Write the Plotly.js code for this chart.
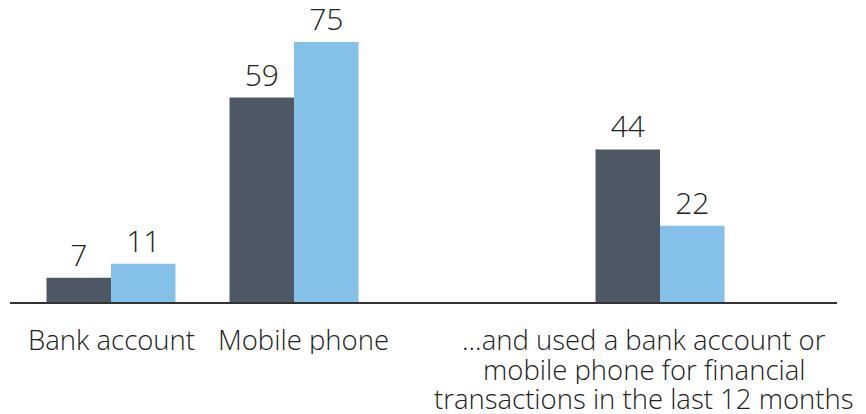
<!DOCTYPE html>
<html><head><meta charset="utf-8">
<script src="https://cdn.plot.ly/plotly-3.0.1.min.js"></script>
<style>html,body{margin:0;padding:0;background:#fff}#chart{width:866px;height:414px}</style>
</head><body><div id="chart"></div>
<script>
const categories = ["Bank account", "Mobile phone", " ", "...and used a bank account or<br>mobile phone for financial<br>transactions in the last 12 months"];
const seriesDark = [7, 59, null, 44];
const seriesLight = [11, 75, null, 22];
const labelShift = [0, 9, 0, -16];

const FONT = "'Open Sans', Lato, sans-serif";
const traces = [
  {type: "bar", x: categories, y: seriesDark, name: "A", marker: {color: "#4d5864"},
   text: seriesDark.map(v => v == null ? "" : String(v)), textposition: "outside",
   textfont: {family: FONT, size: 30, color: "#222", weight: 300}, cliponaxis: false, hoverinfo: "none"},
  {type: "bar", x: categories, y: seriesLight, name: "B", marker: {color: "#85c0e8"},
   text: seriesLight.map(v => v == null ? "" : String(v)), textposition: "outside",
   textfont: {family: FONT, size: 30, color: "#222", weight: 300}, cliponaxis: false, hoverinfo: "none"}
];
const annotations = [];
categories.forEach((c, ci) => {
  if (c.trim() === "") return;
  c.split("<br>").forEach((line, li) => {
    annotations.push({
      x: c, xref: "x", y: 0, yref: "paper", yanchor: "top",
      yshift: -21 - li * 29.5, xshift: labelShift[ci],
      height: 29, valign: "middle",
      text: line, showarrow: false, align: "center",
      font: {family: FONT, size: 27.5, color: "#222", weight: 300}
    });
  });
});
const layout = {
  width: 866, height: 414,
  margin: {l: 10, r: 29, t: 6, b: 112},
  paper_bgcolor: "#fff", plot_bgcolor: "#fff",
  barmode: "group", bargap: 0.295, bargroupgap: 0,
  showlegend: false,
  xaxis: {type: "category", categoryorder: "array", categoryarray: categories,
          range: [-0.552, 3.967], showticklabels: false, ticks: "",
          showline: true, linecolor: "#333", linewidth: 2, showgrid: false, zeroline: false, fixedrange: true},
  yaxis: {range: [0, 85.4], visible: false, showgrid: false, zeroline: false, fixedrange: true},
  annotations: annotations,
  font: {family: FONT}
};
Plotly.newPlot("chart", traces, layout, {displayModeBar: false, staticPlot: true});
</script></body></html>
